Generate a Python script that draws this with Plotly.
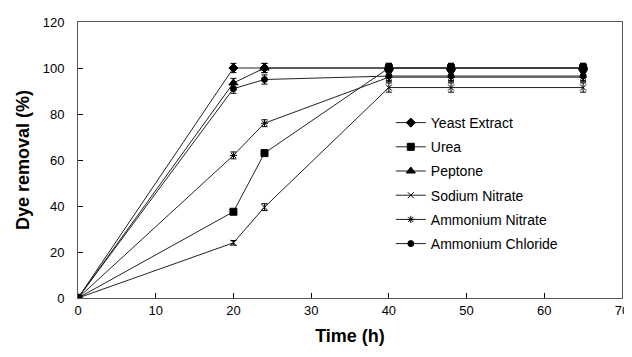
import plotly.graph_objects as go

time_h = [0, 20, 24, 40, 48, 65]
yeast_extract = [0, 100, 100, 100, 100, 100]
urea = [0, 37.5, 63, 100, 100, 100]
peptone = [0, 93.5, 100, 100, 100, 100]
sodium_nitrate = [0, 24, 39.5, 91.5, 91.5, 91.5]
ammonium_nitrate = [0, 62, 76, 96, 96, 96]
ammonium_chloride = [0, 91, 95, 96.5, 96.5, 96.5]

err_ye = [0, 2, 2, 2, 2, 2]
err_urea = [0, 1, 1, 2, 2, 2]
err_pep = [0, 2, 2, 2, 2, 2]
err_sn = [0, 1, 1.5, 2, 2, 2]
err_an = [0, 1.5, 1.5, 2, 2, 2]
err_ac = [0, 2, 2, 2, 2, 2]

series = [
    ("Yeast Extract", yeast_extract, err_ye, "diamond", 7),
    ("Urea", urea, err_urea, "square", 7),
    ("Peptone", peptone, err_pep, "triangle-up", 8),
    ("Sodium Nitrate", sodium_nitrate, err_sn, "x-thin", 6),
    ("Ammonium Nitrate", ammonium_nitrate, err_an, "asterisk", 6),
    ("Ammonium Chloride", ammonium_chloride, err_ac, "circle", 6),
]

fig = go.Figure()
for i, (name, vals, err, sym, size) in enumerate(series):
    fig.add_trace(go.Scatter(
        x=time_h, y=vals, name=name, mode="lines+markers",
        legendgroup=f"g{i}",
        line=dict(color="#222222", width=1),
        marker=dict(symbol=sym, size=size, color="black",
                    line=dict(color="black", width=1)),
        error_y=dict(type="data", array=err, visible=True,
                     color="black", thickness=1, width=3),
    ))

fig.update_layout(
    width=624, height=349,
    margin=dict(l=70, r=10, t=14, b=59),
    paper_bgcolor="white", plot_bgcolor="white",
    font=dict(family="Arial, Liberation Sans, sans-serif", size=13, color="black"),
    showlegend=True,
    legend=dict(x=0.575, y=0.692, xanchor="left", yanchor="top",
                bgcolor="rgba(0,0,0,0)", font=dict(size=14),
                tracegroupgap=3, itemwidth=30),
    xaxis=dict(range=[0, 70], dtick=10, ticks="inside", ticklen=5,
               tickcolor="black", showline=True, linecolor="#555555",
               mirror=True, showgrid=False, zeroline=False, automargin=False,
               title=dict(text="<b>Time (h)</b>", font=dict(size=18), standoff=12)),
    yaxis=dict(range=[0, 120], dtick=20, ticks="inside", ticklen=5,
               tickcolor="black", showline=True, linecolor="#555555",
               mirror=True, showgrid=False, zeroline=False, automargin=False,
               ticksuffix="\u2007\u2009",
               title=dict(text="<b>Dye removal (%)</b>", font=dict(size=18), standoff=8)),
)

fig.write_html("out.html")
